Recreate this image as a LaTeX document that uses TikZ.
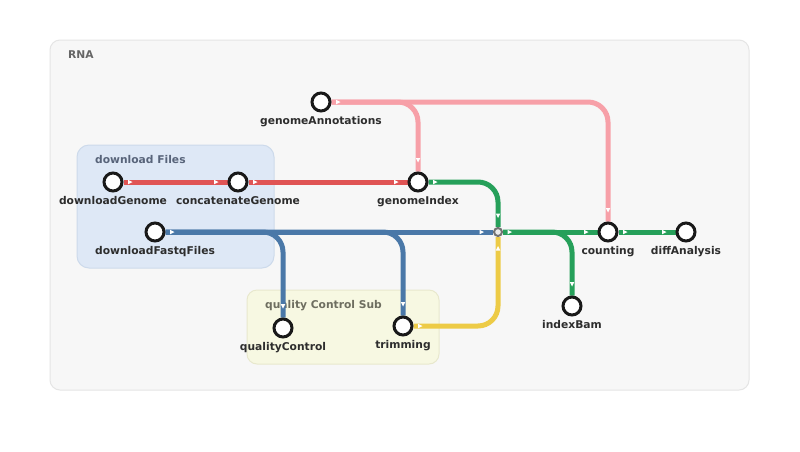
\documentclass[tikz,border=0pt]{standalone}
\usepackage{xcolor}
\usepackage{fontspec}
\setmainfont{DejaVu Sans}
\usepackage{tikz}
\usetikzlibrary{arrows.meta,decorations.markings}
\definecolor{cRed}{RGB}{224,84,84}
\definecolor{cPink}{RGB}{247,160,168}
\definecolor{cGreen}{RGB}{38,160,90}
\definecolor{cBlue}{RGB}{74,120,168}
\definecolor{cYellow}{RGB}{237,203,70}
\definecolor{cText}{RGB}{45,45,45}
\definecolor{dlFill}{RGB}{222,232,246}
\definecolor{dlEdge}{RGB}{205,218,235}
\definecolor{qcFill}{RGB}{247,248,226}
\definecolor{qcEdge}{RGB}{232,232,205}
\pgfdeclarelayer{boxes}
\pgfdeclarelayer{lines}
\pgfsetlayers{boxes,lines,main}
\tikzstyle{station} = [circle, minimum size=18pt, inner sep=0pt, line width=3pt, draw=black!90, fill=white]
\tikzstyle{hub} = [circle, minimum size=8pt, inner sep=0pt, line width=2pt, draw=black!55, fill=black!8]
\tikzstyle{lbl} = [font=\bfseries\fontsize{10.7}{12}\selectfont, text=cText, inner sep=1pt]
\tikzstyle{grouplbl} = [font=\bfseries\fontsize{10.7}{12}\selectfont, anchor=west, inner sep=0pt]
\tikzstyle{track} = [line width=5pt, rounded corners=20pt, postaction={decorate},
  decoration={markings,
    mark=at position 9pt with {\arrow{Triangle[width=4.5pt,length=4.5pt,line width=0pt,color=white]}},
    mark=at position -9pt with {\arrow{Triangle[width=4.5pt,length=4.5pt,line width=0pt,color=white]}}}]

\begin{document}
\begin{tikzpicture}[x=1pt, y=-1pt, label distance=3pt]

	\useasboundingbox (0,0) rectangle (800,451);

	% stations
	\node (gAnn) [station, label={[lbl]below:genomeAnnotations}] at (321,102) {};
	\node (dlG) [station, label={[lbl]below:downloadGenome}] at (113,182) {};
	\node (catG) [station, label={[lbl]below:concatenateGenome}] at (238,182) {};
	\node (gIdx) [station, label={[lbl]below:genomeIndex}] at (418,182) {};
	\node (dlF) [station, label={[lbl]below:downloadFastqFiles}] at (155,232) {};
	\node (jn) [hub] at (498,232) {};
	\node (cnt) [station, label={[lbl]below:counting}] at (608,232) {};
	\node (diff) [station, label={[lbl]below:diffAnalysis}] at (686,232) {};
	\node (bam) [station, label={[lbl]below:indexBam}] at (572,306) {};
	\node (qc) [station, label={[lbl]below:qualityControl}] at (283,328) {};
	\node (trim) [station, label={[lbl]below:trimming}] at (403,326) {};

	% group boxes
	\begin{pgfonlayer}{boxes}
		\fill [white] (0,0) rectangle (800,451);
		\draw [rounded corners=10pt, line width=1pt, draw=black!10, fill=black!3] (50,40) rectangle (749,390);
		\draw [rounded corners=12pt, line width=1pt, draw=dlEdge, fill=dlFill] (77,145) rectangle (274,268);
		\draw [rounded corners=10pt, line width=1pt, draw=qcEdge, fill=qcFill] (247,290) rectangle (439,364);
		\node (rnaLbl) [grouplbl, text=black!60] at (68,55) {RNA};
		\node (dlLbl) [grouplbl, text={rgb,255:red,88;green,100;blue,122}] at (95,160) {download Files};
		\node (qcLbl) [grouplbl, text={rgb,255:red,110;green,110;blue,96}] at (265,306) {quality Control Sub};
	\end{pgfonlayer}

	% tracks
	\begin{pgfonlayer}{lines}
		\draw [track, draw=cRed] (dlG) -- (catG);
		\draw [track, draw=cRed] (catG) -- (gIdx);
		\draw [track, draw=cPink] (gAnn) -| (gIdx);
		\draw [track, draw=cPink] (gAnn) -| (cnt);
		\draw [track, draw=cBlue] (dlF) -| (qc);
		\draw [track, draw=cBlue] (dlF) -| (trim);
		\draw [track, draw=cBlue] (dlF) -- (jn);
		\draw [track, draw=cYellow] (trim) -| (jn);
		\draw [track, draw=cGreen] (gIdx) -| (jn);
		\draw [track, draw=cGreen] (jn) -- (cnt);
		\draw [track, draw=cGreen] (jn) -| (bam);
		\draw [track, draw=cGreen] (cnt) -- (diff);
	\end{pgfonlayer}

\end{tikzpicture}
\end{document}
